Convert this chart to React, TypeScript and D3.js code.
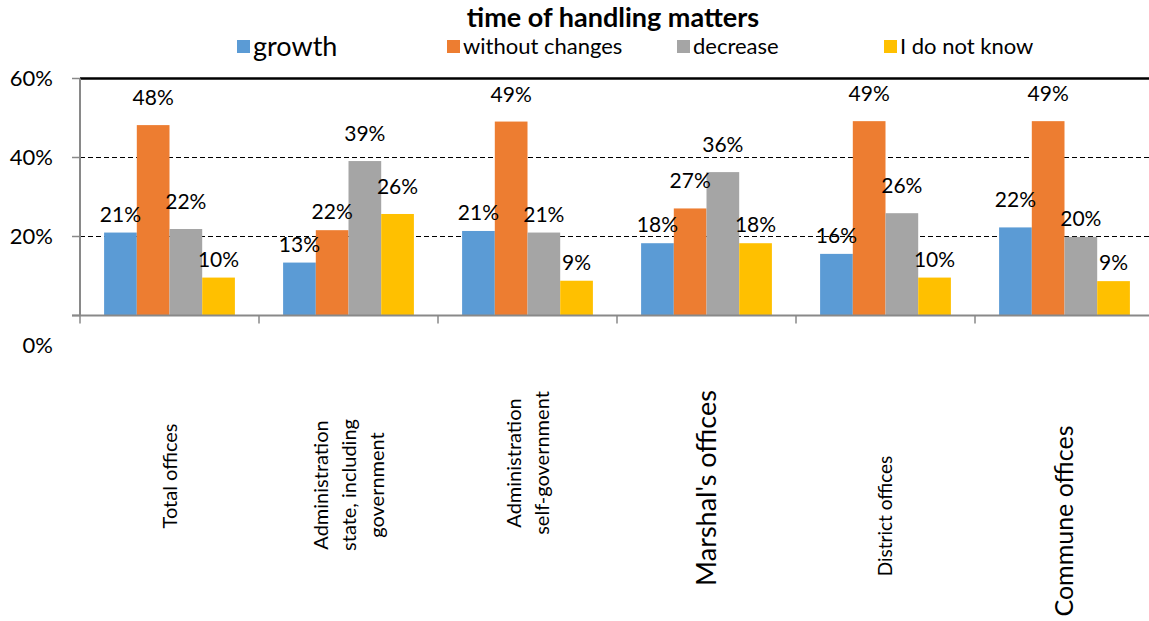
import React, { useEffect, useRef } from 'react';
import * as d3 from 'd3';

// categories (lines as they wrap under the axis)
const categories = [
  'Total offices',
  'Administration state, including government',
  'Administration self-government',
  "Marshal's offices",
  'District offices',
  'Commune offices',
];
const categoryLines = [
  ['Total offices'],
  ['Administration', 'state, including', 'government'],
  ['Administration', 'self-government'],
  ["Marshal's offices"],
  ['District offices'],
  ['Commune offices'],
];

const seriesNames = ['growth', 'without changes', 'decrease', 'I do not know'];
const growth = [21, 13.4, 21.4, 18.3, 15.6, 22.3];
const withoutChanges = [48.2, 21.6, 49.1, 27.1, 49.2, 49.2];
const decrease = [21.9, 39.1, 21.0, 36.3, 25.9, 19.9];
const doNotKnow = [9.6, 25.7, 8.8, 18.3, 9.6, 8.7];
const yTicks = [0, 20, 40, 60];

const colors = ['#5B9BD5', '#ED7D31', '#A5A5A5', '#FFC000'];
const FONT = 'Lato, "Open Sans", sans-serif';

const App: React.FC = () => {
  const ref = useRef<SVGSVGElement | null>(null);

  useEffect(() => {
    if (!ref.current) return;
    const svg = d3.select(ref.current);
    svg.selectAll('*').remove();

    const W = 1149;
    const left = 80;
    const base = 315.5;
    const band = 179;
    const series = [growth, withoutChanges, decrease, doNotKnow];

    const y = d3.scaleLinear().domain([0, 60]).range([base, 78.5]);
    const x0 = d3.scaleBand<string>().domain(categories).range([left, left + band * categories.length]);
    const x1 = d3.scaleBand<string>().domain(seriesNames).range([0, x0.bandwidth()])
      .paddingInner(0).paddingOuter(0.737);

    const g = svg.append('g').style('font-family', FONT);

    // dashed gridlines
    g.selectAll('line.grid')
      .data(yTicks.filter(t => t > 0 && t < 60))
      .enter().append('line')
      .attr('x1', left).attr('x2', W)
      .attr('y1', d => y(d)).attr('y2', d => y(d))
      .attr('stroke', '#000').attr('stroke-width', 1.2)
      .attr('stroke-dasharray', '5,3');

    // top border line
    g.append('line')
      .attr('x1', left).attr('x2', W)
      .attr('y1', y(60)).attr('y2', y(60))
      .attr('stroke', '#000').attr('stroke-width', 2.5);

    // bars
    const rows = categories.map((c, i) => ({ c, i }));
    const groups = g.selectAll('g.cat').data(rows).enter().append('g')
      .attr('transform', d => `translate(${x0(d.c)},0)`);

    groups.selectAll('rect')
      .data(d => seriesNames.map((s, k) => ({ s, k, v: series[k][d.i] })))
      .enter().append('rect')
      .attr('x', d => x1(d.s)!)
      .attr('width', x1.bandwidth())
      .attr('y', d => y(d.v))
      .attr('height', d => base - y(d.v))
      .attr('fill', d => colors[d.k]);

    // taller bars carry their labels a little higher, as in the original
    groups.selectAll('text.val')
      .data(d => seriesNames.map((s, k) => ({ s, k, v: series[k][d.i] })))
      .enter().append('text')
      .attr('x', d => x1(d.s)! + x1.bandwidth() / 2)
      .attr('y', d => y(d.v) - (d.v >= 21.8 ? 20 : 11))
      .attr('text-anchor', 'middle')
      .attr('font-size', 21)
      .attr('fill', '#000')
      .text(d => `${Math.round(d.v)}%`);

    // axes
    const axisColor = '#898989';
    g.append('line')
      .attr('x1', left).attr('x2', left)
      .attr('y1', y(60)).attr('y2', base)
      .attr('stroke', axisColor).attr('stroke-width', 2);
    g.append('line')
      .attr('x1', left - 8).attr('x2', W)
      .attr('y1', base).attr('y2', base)
      .attr('stroke', axisColor).attr('stroke-width', 2);
    g.selectAll('line.ytick').data(yTicks).enter().append('line')
      .attr('x1', left - 8).attr('x2', left)
      .attr('y1', d => y(d)).attr('y2', d => y(d))
      .attr('stroke', axisColor).attr('stroke-width', 1.5);
    const bounds = d3.range(categories.length + 1).map(i => left + i * x0.step());
    g.selectAll('line.xtick').data(bounds).enter().append('line')
      .attr('x1', d => d).attr('x2', d => d)
      .attr('y1', base).attr('y2', base + 8)
      .attr('stroke', axisColor).attr('stroke-width', 1.5);

    // y labels (0% sits below the axis in the original)
    g.selectAll('text.ylab').data(yTicks).enter().append('text')
      .attr('x', 53)
      .attr('y', d => (d === 0 ? base + 30 : y(d)))
      .attr('dy', '0.35em')
      .attr('text-anchor', 'end')
      .attr('font-size', 22)
      .attr('fill', '#000')
      .text(d => `${d}%`);

    // category labels, rotated
    const labelStyle = [
      { size: 20, mid: 476 },
      { size: 20, mid: 485 },
      { size: 20, mid: 463 },
      { size: 27, mid: 488 },
      { size: 19, mid: 516 },
      { size: 25, mid: 521 },
    ];
    categories.forEach((c, i) => {
      const lines = categoryLines[i];
      const st = labelStyle[i];
      const lh = 28;
      const cx = x0(c)! + x0.bandwidth() / 2;
      const t = g.append('text')
        .attr('transform', `translate(${cx},${st.mid}) rotate(-90)`)
        .attr('text-anchor', 'middle')
        .attr('font-size', st.size)
        .attr('fill', '#000');
      lines.forEach((ln, j) => {
        t.append('tspan')
          .attr('x', 0)
          .attr('y', (j - (lines.length - 1) / 2) * lh)
          .attr('dy', '0.35em')
          .text(ln);
      });
    });

    // title
    g.append('text')
      .attr('x', 613).attr('y', 27)
      .attr('text-anchor', 'middle')
      .attr('font-size', 27)
      .attr('font-weight', 'bold')
      .attr('fill', '#000')
      .text('time of handling matters');

    // legend
    const legendX = [237, 447, 677, 884];
    seriesNames.forEach((s, k) => {
      g.append('rect')
        .attr('x', legendX[k]).attr('y', 40)
        .attr('width', 13).attr('height', 13)
        .attr('fill', colors[k]);
      g.append('text')
        .attr('x', legendX[k] + 16).attr('y', k === 0 ? 56 : 54)
        .attr('font-size', k === 0 ? 27 : 22)
        .attr('fill', '#000')
        .text(s);
    });
  }, []);

  return (
    <svg
      ref={ref}
      width={1149}
      height={621}
      style={{ position: 'absolute', left: 0, top: 0, background: '#fff' }}
    />
  );
};

export default App;
